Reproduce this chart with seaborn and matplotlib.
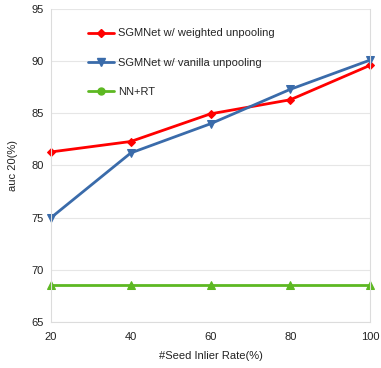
import matplotlib
matplotlib.use("Agg")
import matplotlib.pyplot as plt
from matplotlib.lines import Line2D
import seaborn as sns
import pandas as pd

x_vals = [20, 40, 60, 80, 100]
weighted = [81.3, 82.3, 84.95, 86.3, 89.6]
vanilla = [75.0, 81.2, 84.0, 87.3, 90.1]
nnrt = [68.5, 68.5, 68.5, 68.5, 68.5]
series_names = ["SGMNet w/ weighted unpooling", "SGMNet w/ vanilla unpooling", "NN+RT"]
y_ticks = [65, 70, 75, 80, 85, 90, 95]

sns.set_theme(style="whitegrid")
plt.rcParams['font.family'] = ['Liberation Sans', 'DejaVu Sans']

fig = plt.figure(figsize=(3.81, 3.68), dpi=100)
ax = fig.add_axes([51/381, 1-322/368, 319/381, 313/368])

colors = ["#ff0000", "#3a6baa", "#5db822"]
markers = ["D", "v", "^"]
msizes = [4, 6, 6]
for name, vals, c, m, ms in zip(series_names, [weighted, vanilla, nnrt], colors, markers, msizes):
    df = pd.DataFrame({"x": x_vals, "y": vals})
    sns.lineplot(data=df, x="x", y="y", ax=ax, color=c, lw=2.0, marker=m,
                 markersize=ms, markeredgecolor=c, clip_on=False)

ax.set_xlim(20, 100)
ax.set_ylim(65, 95)
ax.set_xticks(x_vals)
ax.set_yticks(y_ticks)
ax.grid(axis="x", visible=False)
ax.grid(axis="y", color="#e6e6e6", lw=0.8)
for s in ax.spines.values():
    s.set_color("#dcdcdc")
    s.set_linewidth(0.8)
ax.spines["top"].set_visible(False)
ax.tick_params(labelsize=8, colors="#222222", length=0)
ax.tick_params(axis="x", pad=7)
ax.tick_params(axis="y", pad=5)
ax.set_xlabel("#Seed Inlier Rate(%)", fontsize=8, color="#222222", labelpad=7)
ax.set_ylabel("auc 20(%)", fontsize=8, color="#222222", labelpad=10)

handles = [
    Line2D([], [], color=colors[0], lw=2.0, marker="D", markersize=4),
    Line2D([], [], color=colors[1], lw=2.0, marker="v", markersize=6),
    Line2D([], [], color=colors[2], lw=2.0, marker="o", markersize=5),
]
ax.legend(handles, series_names, loc="upper left", bbox_to_anchor=(0.085, 0.97),
          frameon=False, fontsize=8, labelspacing=1.75, handlelength=2.3,
          handletextpad=0.4)

fig.savefig("out.png", dpi=100)
